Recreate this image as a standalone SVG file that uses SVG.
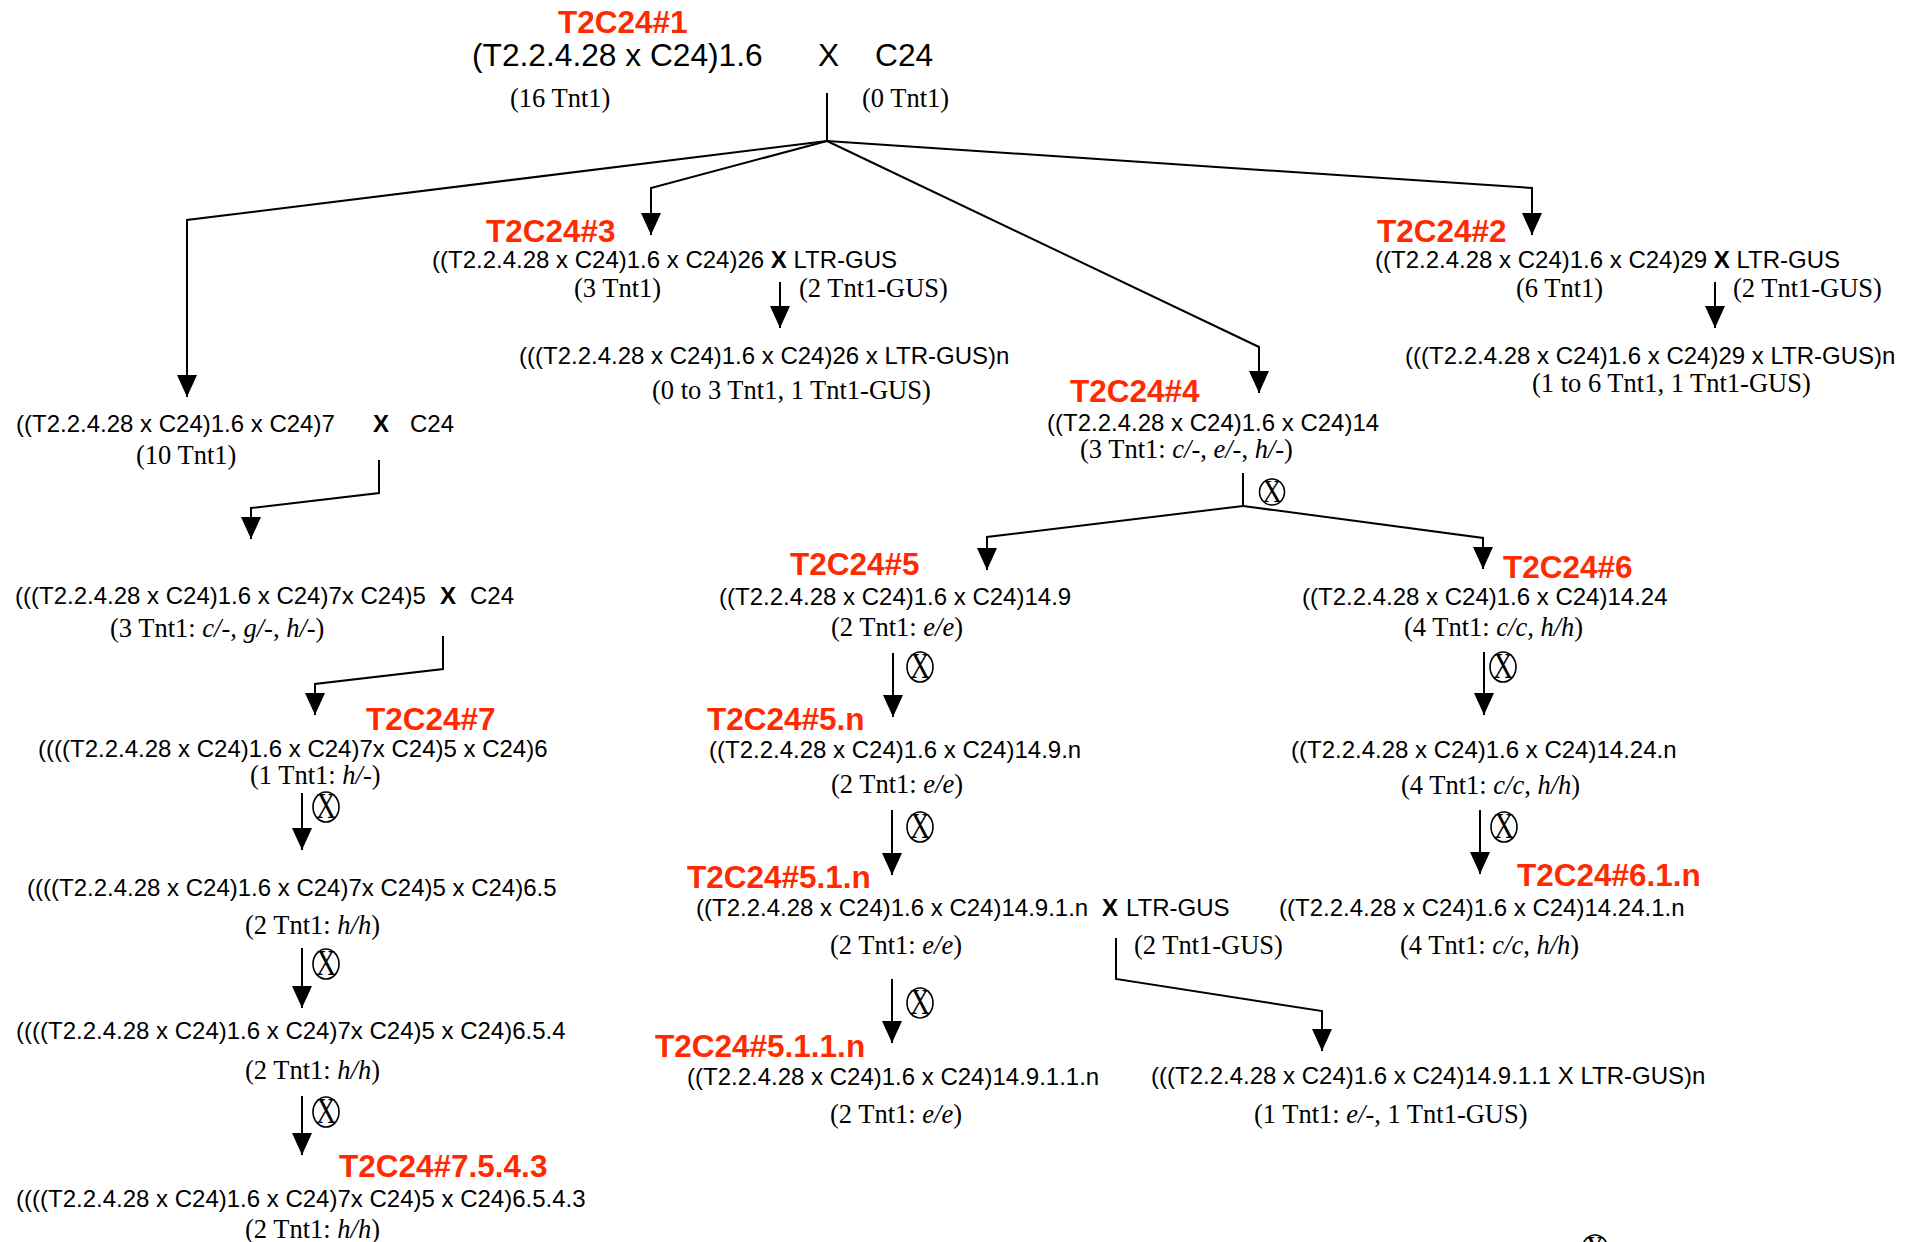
<svg xmlns="http://www.w3.org/2000/svg" width="1921" height="1242" viewBox="0 0 1921 1242">
<style>
.s{font-family:"Liberation Sans",Arial,sans-serif;font-size:24px;fill:#000}
.t{font-size:31.7px}
.r{font-family:"Liberation Sans",Arial,sans-serif;font-weight:bold;font-size:31.5px;fill:#ff2a00}
.m{font-family:"Liberation Serif","Times New Roman",serif;font-size:26.5px;fill:#000}
.b{font-weight:bold}
.i{font-style:italic}
.c{fill:none;stroke:#000;stroke-width:2}
.a{marker-end:url(#ah)}
.ox ellipse{fill:none;stroke:#000;stroke-width:1.6}
.ox text{font-family:"Liberation Serif","Times New Roman",serif;font-size:32px;text-anchor:middle;fill:#000}
</style>
<defs>
<marker id="ah" viewBox="0 0 22 20" markerWidth="22" markerHeight="20" refX="22" refY="10" orient="auto" markerUnits="userSpaceOnUse">
<path d="M0,0 L22,10 L0,20 z" fill="#000"/>
</marker>
</defs>
<rect width="1921" height="1242" fill="#fff"/>

<g id="connectors">
<path class="c" d="M827,93 V141"/>
<path class="c a" d="M827,141 L187,220 V397"/>
<path class="c a" d="M827,141 L651,188 V235"/>
<path class="c a" d="M827,141 L1259,347 V393"/>
<path class="c a" d="M827,141 L1532,188 V235"/>
<path class="c a" d="M780,282 V328"/>
<path class="c a" d="M1715,282 V328"/>
<path class="c" d="M1243,473 V506"/>
<path class="c a" d="M1243,506 L987,537 V570"/>
<path class="c a" d="M1243,506 L1483,538 V569"/>
<path class="c a" d="M379,460 V493 L251,508 V539"/>
<path class="c a" d="M443,636 V669 L315,684 V715"/>
<path class="c a" d="M302,793 V850"/>
<path class="c a" d="M302,948 V1008"/>
<path class="c a" d="M302,1096 V1155"/>
<path class="c a" d="M893,653 V717"/>
<path class="c a" d="M892,810 V875"/>
<path class="c a" d="M892,979 V1043"/>
<path class="c a" d="M1116,938 V979 L1322,1011 V1051"/>
<path class="c a" d="M1484,652 V715"/>
<path class="c a" d="M1480,810 V874"/>
<g class="ox" transform="translate(1272,492)"><ellipse rx="12.5" ry="13"/><text y="9.5" transform="scale(0.85,1)">X</text></g>
<g class="ox" transform="translate(326,807)"><ellipse rx="13" ry="15"/><text y="9.6" transform="scale(0.87,1.1)">X</text></g>
<g class="ox" transform="translate(326,964)"><ellipse rx="13" ry="15"/><text y="9.6" transform="scale(0.87,1.1)">X</text></g>
<g class="ox" transform="translate(326,1112)"><ellipse rx="13" ry="15"/><text y="9.6" transform="scale(0.87,1.1)">X</text></g>
<g class="ox" transform="translate(920,667)"><ellipse rx="13" ry="15"/><text y="9.6" transform="scale(0.87,1.1)">X</text></g>
<g class="ox" transform="translate(920,827)"><ellipse rx="13" ry="15"/><text y="9.6" transform="scale(0.87,1.1)">X</text></g>
<g class="ox" transform="translate(920,1003)"><ellipse rx="13" ry="15"/><text y="9.6" transform="scale(0.87,1.1)">X</text></g>
<g class="ox" transform="translate(1503,667)"><ellipse rx="13" ry="15"/><text y="9.6" transform="scale(0.87,1.1)">X</text></g>
<g class="ox" transform="translate(1504,827)"><ellipse rx="13" ry="15"/><text y="9.6" transform="scale(0.87,1.1)">X</text></g>
<g class="ox" transform="translate(1595,1250)"><ellipse rx="13" ry="15"/><text y="9.6" transform="scale(0.87,1.1)">X</text></g>
</g>

<g id="n1">
<text class="r" x="558" y="33">T2C24#1</text>
<text class="s t" x="472" y="66">(T2.2.4.28 x C24)1.6</text>
<text class="s t" x="818" y="66">X</text>
<text class="s t" x="875" y="66">C24</text>
<text class="m" x="510" y="107">(16 Tnt1)</text>
<text class="m" x="862" y="107">(0 Tnt1)</text>
</g>

<g id="n3">
<text class="r" x="486" y="242">T2C24#3</text>
<text class="s" x="432" y="268">((T2.2.4.28 x C24)1.6 x C24)26 <tspan class="b">X</tspan> LTR-GUS</text>
<text class="m" x="574" y="297">(3 Tnt1)</text>
<text class="m" x="799" y="297">(2 Tnt1-GUS)</text>
</g>
<g id="n3n">
<text class="s" x="519" y="364">(((T2.2.4.28 x C24)1.6 x C24)26 x LTR-GUS)n</text>
<text class="m" x="652" y="399">(0 to 3 Tnt1, 1 Tnt1-GUS)</text>
</g>

<g id="n2">
<text class="r" x="1377" y="242">T2C24#2</text>
<text class="s" x="1375" y="268">((T2.2.4.28 x C24)1.6 x C24)29 <tspan class="b">X</tspan> LTR-GUS</text>
<text class="m" x="1516" y="297">(6 Tnt1)</text>
<text class="m" x="1733" y="297">(2 Tnt1-GUS)</text>
</g>
<g id="n2n">
<text class="s" x="1405" y="364">(((T2.2.4.28 x C24)1.6 x C24)29 x LTR-GUS)n</text>
<text class="m" x="1532" y="392">(1 to 6 Tnt1, 1 Tnt1-GUS)</text>
</g>

<g id="n4">
<text class="r" x="1070" y="402">T2C24#4</text>
<text class="s" x="1047" y="431">((T2.2.4.28 x C24)1.6 x C24)14</text>
<text class="m" x="1080" y="458">(3 Tnt1: <tspan class="i">c/</tspan>-, <tspan class="i">e/</tspan>-, <tspan class="i">h/</tspan>-)</text>
</g>

<g id="n7a">
<text class="s" x="16" y="432">((T2.2.4.28 x C24)1.6 x C24)7</text>
<text class="s b" x="373" y="432">X</text>
<text class="s" x="410" y="432">C24</text>
<text class="m" x="136" y="464">(10 Tnt1)</text>
</g>

<g id="n7b">
<text class="s" x="15" y="604">(((T2.2.4.28 x C24)1.6 x C24)7x C24)5</text>
<text class="s b" x="440" y="604">X</text>
<text class="s" x="470" y="604">C24</text>
<text class="m" x="110" y="637">(3 Tnt1: <tspan class="i">c/</tspan>-, <tspan class="i">g/</tspan>-, <tspan class="i">h/</tspan>-)</text>
</g>

<g id="n7">
<text class="r" x="366" y="730">T2C24#7</text>
<text class="s" x="38" y="757">((((T2.2.4.28 x C24)1.6 x C24)7x C24)5 x C24)6</text>
<text class="m" x="250" y="784">(1 Tnt1: <tspan class="i">h/</tspan>-)</text>
</g>

<g id="n7-5">
<text class="s" x="27" y="896">((((T2.2.4.28 x C24)1.6 x C24)7x C24)5 x C24)6.5</text>
<text class="m" x="245" y="934">(2 Tnt1: <tspan class="i">h/h</tspan>)</text>
</g>

<g id="n7-5-4">
<text class="s" x="16" y="1039">((((T2.2.4.28 x C24)1.6 x C24)7x C24)5 x C24)6.5.4</text>
<text class="m" x="245" y="1079">(2 Tnt1: <tspan class="i">h/h</tspan>)</text>
</g>

<g id="n7-5-4-3">
<text class="r" x="339" y="1177">T2C24#7.5.4.3</text>
<text class="s" x="16" y="1207">((((T2.2.4.28 x C24)1.6 x C24)7x C24)5 x C24)6.5.4.3</text>
<text class="m" x="245" y="1238">(2 Tnt1: <tspan class="i">h/h</tspan>)</text>
</g>

<g id="n5">
<text class="r" x="790" y="575">T2C24#5</text>
<text class="s" x="719" y="605">((T2.2.4.28 x C24)1.6 x C24)14.9</text>
<text class="m" x="831" y="636">(2 Tnt1: <tspan class="i">e/e</tspan>)</text>
</g>

<g id="n5n">
<text class="r" x="707" y="730">T2C24#5.n</text>
<text class="s" x="709" y="758">((T2.2.4.28 x C24)1.6 x C24)14.9.n</text>
<text class="m" x="831" y="793">(2 Tnt1: <tspan class="i">e/e</tspan>)</text>
</g>

<g id="n51n">
<text class="r" x="687" y="888">T2C24#5.1.n</text>
<text class="s" x="696" y="916">((T2.2.4.28 x C24)1.6 x C24)14.9.1.n</text>
<text class="s b" x="1102" y="916">X</text>
<text class="s" x="1126" y="916">LTR-GUS</text>
<text class="m" x="830" y="954">(2 Tnt1: <tspan class="i">e/e</tspan>)</text>
<text class="m" x="1134" y="954">(2 Tnt1-GUS)</text>
</g>

<g id="n511n">
<text class="r" x="655" y="1057">T2C24#5.1.1.n</text>
<text class="s" x="687" y="1085">((T2.2.4.28 x C24)1.6 x C24)14.9.1.1.n</text>
<text class="m" x="830" y="1123">(2 Tnt1: <tspan class="i">e/e</tspan>)</text>
</g>

<g id="n51gus">
<text class="s" x="1151" y="1084">(((T2.2.4.28 x C24)1.6 x C24)14.9.1.1 X LTR-GUS)n</text>
<text class="m" x="1254" y="1123">(1 Tnt1: <tspan class="i">e/</tspan>-, 1 Tnt1-GUS)</text>
</g>

<g id="n6">
<text class="r" x="1503" y="578">T2C24#6</text>
<text class="s" x="1302" y="605">((T2.2.4.28 x C24)1.6 x C24)14.24</text>
<text class="m" x="1404" y="636">(4 Tnt1: <tspan class="i">c/c</tspan>, <tspan class="i">h/h</tspan>)</text>
</g>

<g id="n6n">
<text class="s" x="1291" y="758">((T2.2.4.28 x C24)1.6 x C24)14.24.n</text>
<text class="m" x="1401" y="794">(4 Tnt1: <tspan class="i">c/c</tspan>, <tspan class="i">h/h</tspan>)</text>
</g>

<g id="n61n">
<text class="r" x="1517" y="886">T2C24#6.1.n</text>
<text class="s" x="1279" y="916">((T2.2.4.28 x C24)1.6 x C24)14.24.1.n</text>
<text class="m" x="1400" y="954">(4 Tnt1: <tspan class="i">c/c</tspan>, <tspan class="i">h/h</tspan>)</text>
</g>
</svg>
